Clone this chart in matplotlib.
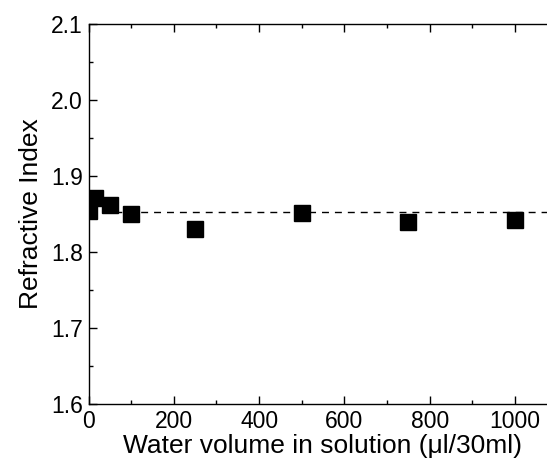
import matplotlib
matplotlib.use("Agg")
from matplotlib import pyplot as plt
from matplotlib.ticker import MultipleLocator

# data
volume = [0, 16, 50, 100, 250, 500, 750, 1000]
refr_index = [1.854, 1.871, 1.862, 1.850, 1.830, 1.851, 1.840, 1.842]
mean_index = 1.852

plt.rcParams['font.family'] = ['Liberation Sans', 'DejaVu Sans']

fig = plt.figure(figsize=(5.47, 4.66), dpi=100)
ax = fig.add_axes([88.5 / 547, 62 / 466, 468 / 547, 380 / 466])

ax.plot(volume, refr_index, linestyle="none", marker="s", markersize=11.5,
        color="black", clip_on=True, zorder=3)
ax.axhline(mean_index, color="black", linewidth=1.0, linestyle=(0, (5, 4.3)), zorder=2)

ax.set_xlim(0, 468 / 0.4265)
ax.set_ylim(1.6, 2.1)
ax.xaxis.set_major_locator(MultipleLocator(200))
ax.xaxis.set_minor_locator(MultipleLocator(100))
ax.yaxis.set_major_locator(MultipleLocator(0.1))
ax.yaxis.set_minor_locator(MultipleLocator(0.05))
ax.yaxis.set_major_formatter(matplotlib.ticker.FormatStrFormatter("%.1f"))

ax.tick_params(which="both", direction="in", top=True, right=False, width=1.0,
               labelsize=16.5, colors="black")
ax.tick_params(which="major", length=5.5, pad=4)
ax.tick_params(which="minor", length=3)
for s in ax.spines.values():
    s.set_linewidth(1.0)

ax.set_xlabel("Water volume in solution (\u03bcl/30ml)", fontsize=19, labelpad=1)
ax.set_ylabel("Refractive Index", fontsize=19, labelpad=6)

plt.savefig("out.png", dpi=100)
